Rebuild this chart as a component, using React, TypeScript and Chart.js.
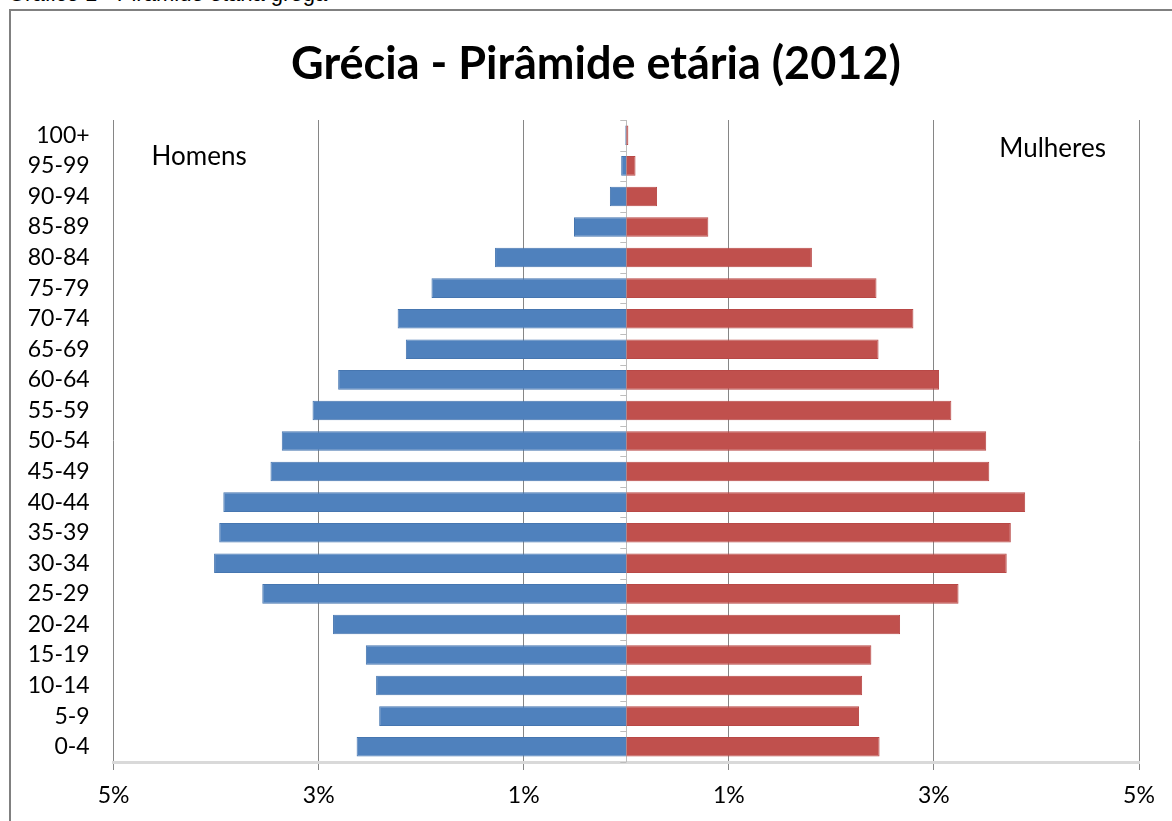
import React, { useEffect, useRef } from "react";
import { Chart, registerables } from "chart.js";

Chart.register(...registerables);

const ageGroups = [
  "100+", "95-99", "90-94", "85-89", "80-84", "75-79", "70-74", "65-69",
  "60-64", "55-59", "50-54", "45-49", "40-44", "35-39", "30-34", "25-29",
  "20-24", "15-19", "10-14", "5-9", "0-4",
];

const menPct = [
  0.01, 0.05, 0.16, 0.51, 1.28, 1.90, 2.23, 2.15,
  2.81, 3.06, 3.36, 3.47, 3.93, 3.97, 4.02, 3.55,
  2.86, 2.54, 2.44, 2.41, 2.63,
];

const womenPct = [
  0.02, 0.09, 0.30, 0.80, 1.81, 2.44, 2.80, 2.46,
  3.05, 3.17, 3.51, 3.54, 3.89, 3.75, 3.71, 3.24,
  2.67, 2.39, 2.30, 2.27, 2.47,
];

const xTickValues = [-5, -3, -1, 1, 3, 5];

const titleText = "Grécia - Pirâmide etária (2012)";
const menLabel = "Homens";
const womenLabel = "Mulheres";
const captionText = "Gráfico 1 - Pirâmide etária grega";

const FONT = "Lato, 'Noto Sans', sans-serif";

const decorPlugin = {
  id: "decor",
  beforeDatasetsDraw(chart: any) {
    const { ctx, chartArea, scales } = chart;
    const x0 = scales.x.getPixelForValue(0);
    const n = ageGroups.length;
    const h = (chartArea.bottom - chartArea.top) / n;
    ctx.save();
    ctx.strokeStyle = "#bdbdbd";
    ctx.lineWidth = 1;
    ctx.beginPath();
    ctx.moveTo(Math.round(x0) + 0.5, chartArea.top);
    ctx.lineTo(Math.round(x0) + 0.5, chartArea.bottom);
    for (let i = 0; i <= n; i++) {
      const y = Math.round(chartArea.top + i * h) + 0.5;
      ctx.moveTo(x0 - 6, y);
      ctx.lineTo(x0, y);
    }
    ctx.stroke();
    ctx.restore();
  },
  afterDraw(chart: any) {
    const { ctx, chartArea } = chart;
    ctx.save();
    ctx.fillStyle = "#000";
    ctx.textBaseline = "middle";
    ctx.font = `bold 45px ${FONT}`;
    ctx.textAlign = "center";
    ctx.fillText(titleText, 585, 52);
    ctx.font = `26px ${FONT}`;
    ctx.textAlign = "left";
    ctx.fillText(menLabel, chartArea.left + 38, chartArea.top + 37);
    ctx.textAlign = "right";
    ctx.fillText(womenLabel, chartArea.right - 33, chartArea.top + 29);
    ctx.restore();
  },
};

export default function App() {
  const ref = useRef<HTMLCanvasElement>(null);

  useEffect(() => {
    if (!ref.current) return;
    const chart = new Chart(ref.current, {
      type: "bar",
      data: {
        labels: ageGroups,
        datasets: [
          {
            label: menLabel,
            data: menPct.map((v) => -v),
            backgroundColor: "#4f81bd",
            borderColor: "#4676b0",
            borderWidth: 1,
            barPercentage: 0.64,
            categoryPercentage: 1,
          },
          {
            label: womenLabel,
            data: womenPct,
            backgroundColor: "#c0504d",
            borderColor: "#b84846",
            borderWidth: 1,
            barPercentage: 0.64,
            categoryPercentage: 1,
          },
        ],
      },
      options: {
        indexAxis: "y",
        responsive: false,
        animation: false,
        layout: { padding: { left: 0, right: 46, top: 108, bottom: 0 } },
        plugins: {
          legend: { display: false },
          tooltip: { enabled: false },
          title: { display: false },
        },
        scales: {
          x: {
            type: "linear",
            min: -5,
            max: 5,
            stacked: true,
            afterBuildTicks: (s: any) => {
              s.ticks = xTickValues.map((v) => ({ value: v }));
            },
            afterFit: (s: any) => {
              s.height = 60;
            },
            ticks: {
              callback: (v: any) => Math.abs(Number(v)) + "%",
              font: { family: FONT, size: 23 },
              color: "#000",
              padding: 12,
              maxRotation: 0,
              autoSkip: false,
            },
            grid: { color: "#868686", lineWidth: 1, tickLength: 8, drawTicks: true },
            border: { color: "#d9d9d9", width: 3 },
          },
          y: {
            type: "category",
            stacked: true,
            afterFit: (s: any) => {
              s.width = 102.6;
            },
            ticks: {
              font: { family: FONT, size: 23 },
              color: "#000",
              padding: 24,
              autoSkip: false,
            },
            grid: { display: false, drawTicks: false },
            border: { display: false },
          },
        },
      } as any,
      plugins: [decorPlugin],
    });
    return () => chart.destroy();
  }, []);

  return (
    <div
      style={{
        position: "absolute",
        left: 0,
        top: 0,
        width: 1172,
        height: 821,
        overflow: "hidden",
        background: "#fff",
      }}
    >
      <div
        style={{
          position: "absolute",
          left: 8,
          top: 0,
          height: 8,
          width: 700,
          overflow: "hidden",
        }}
      >
        <span
          style={{
            position: "absolute",
            left: 0,
            top: -17.5,
            fontFamily: "'Liberation Sans', Arial, sans-serif",
            fontSize: 22,
            lineHeight: "22px",
            whiteSpace: "nowrap",
            color: "#000",
          }}
        >
          {captionText}
        </span>
      </div>
      <div
        style={{
          position: "absolute",
          left: 9,
          top: 9,
          width: 1200,
          height: 840,
          borderLeft: "2px solid #808080",
          borderTop: "2px solid #808080",
        }}
      />
      <canvas
        ref={ref}
        width={1174}
        height={810}
        style={{ position: "absolute", left: 11, top: 12, width: 1174, height: 810 }}
      />
    </div>
  );
}
